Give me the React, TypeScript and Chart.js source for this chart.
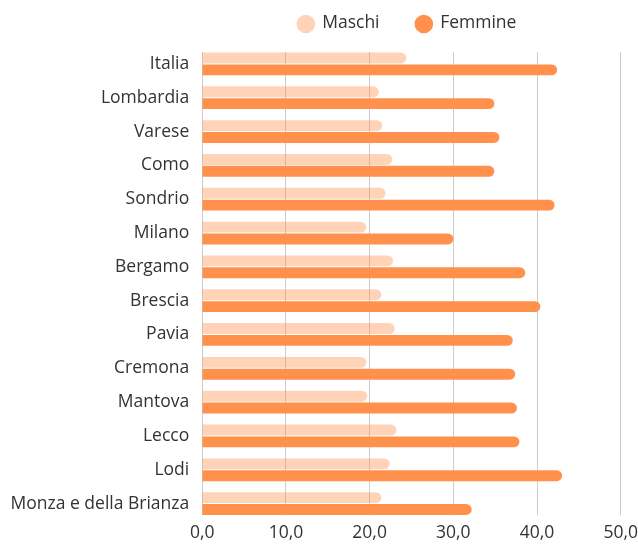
import React, { useEffect, useRef } from 'react';
import { Chart, registerables } from 'chart.js';

Chart.register(...registerables);

const categories = [
  'Italia', 'Lombardia', 'Varese', 'Como', 'Sondrio', 'Milano', 'Bergamo',
  'Brescia', 'Pavia', 'Cremona', 'Mantova', 'Lecco', 'Lodi', 'Monza e della Brianza',
];
const maschi = [24.4, 21.1, 21.5, 22.7, 21.9, 19.6, 22.8, 21.4, 23.0, 19.6, 19.7, 23.2, 22.4, 21.4];
const femmine = [42.4, 34.9, 35.5, 34.9, 42.1, 30.0, 38.6, 40.4, 37.1, 37.4, 37.6, 37.9, 43.0, 32.2];
const seriesNames = ['Maschi', 'Femmine'];
const xTickValues = [0, 10, 20, 30, 40, 50];

const FONT = "'Open Sans', sans-serif";
const FS = 17.5;
const TEXT = '#333333';
const COL_M = 'rgba(255,145,77,0.4)';
const COL_F = '#FF914D';
const CAT_PCT = 0.7;

const gridPlugin = {
  id: 'customGrid',
  beforeDatasetsDraw(chart: any) {
    const { ctx } = chart;
    const x = chart.scales.x;
    const y = chart.scales.y;
    const n = categories.length;
    const p0 = y.getPixelForValue(0);
    const p1 = y.getPixelForValue(n - 1);
    const pitch = (p1 - p0) / (n - 1);
    const half = (pitch * CAT_PCT) / 2;
    ctx.save();
    ctx.strokeStyle = '#cccccc';
    ctx.lineWidth = 1;
    xTickValues.forEach((v) => {
      const px = Math.floor(x.getPixelForValue(v)) + 0.5;
      ctx.beginPath();
      ctx.moveTo(px, p0 - half);
      ctx.lineTo(px, p1 + half);
      ctx.stroke();
    });
    ctx.restore();
  },
};

const legendPlugin = {
  id: 'customLegend',
  afterDraw(chart: any) {
    const { ctx, chartArea } = chart;
    const colors = [COL_M, COL_F];
    const r = 9.3;
    const gapText = 7;
    const gapItem = 35;
    ctx.save();
    ctx.font = `${FS}px ${FONT}`;
    const widths = seriesNames.map((s) => ctx.measureText(s).width);
    const total = widths.reduce((a, w) => a + 2 * r + gapText + w, 0) + gapItem * (seriesNames.length - 1);
    const cx = (chartArea.left + chartArea.right) / 2 - 5;
    let xpos = cx - total / 2;
    seriesNames.forEach((s, i) => {
      ctx.fillStyle = colors[i];
      ctx.beginPath();
      ctx.arc(xpos + r, 24, r, 0, Math.PI * 2);
      ctx.fill();
      ctx.fillStyle = TEXT;
      ctx.textBaseline = 'middle';
      ctx.textAlign = 'left';
      ctx.fillText(s, xpos + 2 * r + gapText, 23);
      xpos += 2 * r + gapText + widths[i] + gapItem;
    });
    ctx.restore();
  },
};

export default function App() {
  const ref = useRef<HTMLCanvasElement | null>(null);
  useEffect(() => {
    let chart: Chart | null = null;
    let cancelled = false;
    const build = () => {
      if (cancelled || !ref.current) return;
      chart = new Chart(ref.current, {
        type: 'bar',
        data: {
          labels: categories,
          datasets: [
            {
              label: seriesNames[0],
              data: maschi,
              backgroundColor: COL_M,
              borderRadius: 6,
              borderSkipped: 'start',
              categoryPercentage: CAT_PCT,
              barPercentage: 0.92,
            },
            {
              label: seriesNames[1],
              data: femmine,
              backgroundColor: COL_F,
              borderRadius: 6,
              borderSkipped: 'start',
              categoryPercentage: CAT_PCT,
              barPercentage: 0.92,
            },
          ],
        },
        options: {
          indexAxis: 'y',
          animation: false,
          responsive: true,
          maintainAspectRatio: false,
          layout: { padding: { top: 47, left: -2.5, right: 0, bottom: -5 } },
          plugins: {
            legend: { display: false },
            tooltip: { enabled: false },
            title: { display: false },
          },
          scales: {
            x: {
              min: xTickValues[0],
              max: xTickValues[xTickValues.length - 1],
              afterBuildTicks: (scale: any) => {
                scale.ticks = xTickValues.map((v) => ({ value: v }));
              },
              grid: { display: false, drawTicks: false },
              border: { display: false },
              ticks: {
                padding: 0,
                autoSkip: false,
                maxRotation: 0,
                color: TEXT,
                font: { family: FONT, size: FS, lineHeight: 1.386 },
                callback: (v: any) => Number(v).toFixed(1).replace('.', ','),
              },
            },
            y: {
              grid: { display: false, drawTicks: false },
              border: { display: false },
              ticks: {
                padding: 13,
                autoSkip: false,
                color: TEXT,
                font: { family: FONT, size: FS },
              },
            },
          },
        },
        plugins: [gridPlugin, legendPlugin],
      });
    };
    const fonts: any = (document as any).fonts;
    if (fonts && fonts.load) {
      fonts.load(`${FS}px "Open Sans"`).then(build, build);
    } else {
      build();
    }
    return () => {
      cancelled = true;
      if (chart) chart.destroy();
    };
  }, []);
  return (
    <div style={{ position: 'fixed', left: 0, top: 0, width: 638, height: 544 }}>
      <canvas ref={ref} />
    </div>
  );
}
